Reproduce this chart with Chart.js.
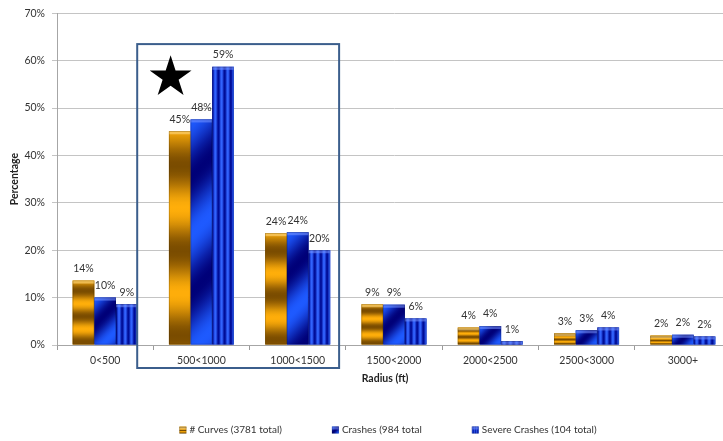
<!DOCTYPE html>
<html>
<head>
<meta charset="utf-8">
<script src="https://cdn.jsdelivr.net/npm/chart.js@4"></script>
<style>
html, body { margin: 0; padding: 0; background: #fff; overflow: hidden; }
</style>
</head>
<body>
<canvas id="myChart" width="731" height="441"></canvas>
<script>
// values (percent)
var radiusLabels = ["0<500", "500<1000", "1000<1500", "1500<2000", "2000<2500", "2500<3000", "3000+"];
var curvesPct  = [13.6, 45.1, 23.6, 8.6, 3.7, 2.5, 2.0];
var crashesPct = [10.0, 47.6, 23.8, 8.5, 4.0, 3.1, 2.15];
var severePct  = [8.6, 58.7, 20.0, 5.6, 0.8, 3.7, 1.8];
var seriesNames = ["# Curves (3781 total)", "Crashes (984 total", "Severe Crashes (104 total)"];
var yMax = 70;
var yStep = 10;

var FONT = "Lato, 'Liberation Sans', sans-serif";
var baseColors = ["#E89A00", "#0A2FE8", "#0A2FE8"];

function mix(a, b, t) {
  var r = Math.round(a[0] + (b[0] - a[0]) * t);
  var g = Math.round(a[1] + (b[1] - a[1]) * t);
  var bl = Math.round(a[2] + (b[2] - a[2]) * t);
  return "rgb(" + r + "," + g + "," + bl + ")";
}

function waveStops(grad, light, dark, cycles, phase) {
  var steps = 48;
  for (var k = 0; k <= steps; k++) {
    var t = k / steps;
    var v = 0.5 + 0.5 * Math.cos(2 * Math.PI * (t * cycles + phase));
    grad.addColorStop(t, mix(dark, light, v));
  }
}

function paintBar(ctx, kind, left, top, w, h) {
  if (h <= 0) return;
  var g;
  if (kind === 0) {
    g = ctx.createLinearGradient(0, top, 0, top + h);
    waveStops(g, [255, 174, 10], [122, 76, 0], 2.5, 0.1);
  } else if (kind === 1) {
    var d = (w + h) / 2;
    g = ctx.createLinearGradient(left, top, left + d, top + d);
    waveStops(g, [30, 90, 255], [0, 0, 120], 1 + h / 200, 0);
  } else {
    g = ctx.createLinearGradient(left, 0, left + w, 0);
    waveStops(g, [50, 100, 255], [0, 12, 150], 3.5, 0.5);
  }
  ctx.save();
  ctx.fillStyle = g;
  ctx.fillRect(left, top, w, h);
  // small lighter cap on top
  var cap = Math.min(3, h);
  ctx.fillStyle = kind === 0 ? "rgba(255,220,140,0.55)" : "rgba(120,150,255,0.55)";
  ctx.fillRect(left, top, w, cap);
  ctx.strokeStyle = "rgba(0,0,0,0.25)";
  ctx.lineWidth = 0.7;
  ctx.strokeRect(left + 0.35, top + 0.35, w - 0.7, h - 0.7);
  ctx.restore();
}

var barSkin = {
  id: "barSkin",
  afterDatasetsDraw: function (chart) {
    var ctx = chart.ctx;
    ctx.save();
    ctx.font = "10.5px " + FONT;
    ctx.textAlign = "center";
    ctx.textBaseline = "middle";
    chart.data.datasets.forEach(function (ds, i) {
      var meta = chart.getDatasetMeta(i);
      meta.data.forEach(function (bar, j) {
        var p = bar.getProps(["x", "y", "base", "width"], true);
        var top = Math.min(p.y, p.base);
        paintBar(ctx, i, p.x - p.width / 2, top, p.width, Math.abs(p.base - p.y));
        ctx.fillStyle = "#333";
        ctx.fillText(Math.round(ds.data[j]) + "%", p.x, top - 12);
      });
    });
    ctx.restore();
  },
  afterDraw: function (chart) {
    var ctx = chart.ctx;
    var xs = chart.scales.x, ys = chart.scales.y;
    var catW = (xs.right - xs.left) / radiusLabels.length;

    // highlight box round the 500-1500 groups
    var bl = xs.getPixelForValue(1) - catW * 0.667;
    var br = xs.getPixelForValue(2) + catW * 0.43;
    var bt = ys.getPixelForValue(63.5);
    var bb = ys.bottom + 23;
    ctx.save();
    ctx.strokeStyle = "#3B5E8C";
    ctx.lineWidth = 2;
    ctx.strokeRect(bl, bt, br - bl, bb - bt);

    // star
    var cx = xs.getPixelForValue(1) - catW * 0.32;
    var cy = ys.getPixelForValue(56.5);
    var R = 22, r = R * 0.382;
    ctx.beginPath();
    for (var k = 0; k < 10; k++) {
      var rad = k % 2 === 0 ? R : r;
      var a = -Math.PI / 2 + k * Math.PI / 5;
      var px = cx + rad * Math.cos(a), py = cy + rad * Math.sin(a);
      if (k === 0) ctx.moveTo(px, py); else ctx.lineTo(px, py);
    }
    ctx.closePath();
    ctx.fillStyle = "#000";
    ctx.fill();

    // legend
    ctx.font = "10px " + FONT;
    ctx.textBaseline = "middle";
    ctx.textAlign = "left";
    var gap = 50, box = 7, tgap = 3;
    var widths = seriesNames.map(function (s) { return box + tgap + ctx.measureText(s).width; });
    var total = widths.reduce(function (a, b) { return a + b; }, 0) + gap * (widths.length - 1);
    var lx = (xs.left + xs.right) / 2 - 6 - total / 2;
    var ly = ys.bottom + 85;
    seriesNames.forEach(function (s, i) {
      paintBar(ctx, i, lx, ly - box / 2, box, box);
      ctx.fillStyle = "#333";
      ctx.fillText(s, lx + box + tgap, ly);
      lx += widths[i] + gap;
    });
    ctx.restore();
  }
};

new Chart("myChart", {
  type: "bar",
  data: {
    labels: radiusLabels,
    datasets: [
      { label: seriesNames[0], data: curvesPct, backgroundColor: baseColors[0] },
      { label: seriesNames[1], data: crashesPct, backgroundColor: baseColors[1] },
      { label: seriesNames[2], data: severePct, backgroundColor: baseColors[2] }
    ]
  },
  options: {
    responsive: false,
    animation: false,
    devicePixelRatio: 1,
    layout: { padding: { top: 10, right: 0, bottom: 0, left: 0 } },
    datasets: { bar: { barPercentage: 1, categoryPercentage: 0.675 } },
    plugins: {
      legend: { display: false },
      tooltip: { enabled: false }
    },
    scales: {
      x: {
        grid: { display: true, drawOnChartArea: false, drawTicks: true, tickLength: 5, color: "#9a9a9a", offset: true },
        border: { color: "#a6a6a6", width: 1 },
        ticks: { color: "#333", padding: 4, font: { family: FONT, size: 10.5 }, maxRotation: 0, autoSkip: false },
        title: {
          display: true,
          text: "Radius (ft)\u00a0\u00a0\u00a0\u00a0\u00a0\u00a0\u00a0",
          color: "#222",
          font: { family: FONT, size: 10.5, weight: "bold" },
          padding: { top: 0, bottom: 56 }
        },
        afterFit: function (scale) { scale.height = 96; }
      },
      y: {
        min: 0,
        max: yMax,
        grid: { color: "#c4c4c4", lineWidth: 1, tickLength: 5, drawTicks: true },
        border: { color: "#a6a6a6", width: 1 },
        ticks: {
          stepSize: yStep,
          color: "#333",
          padding: 7,
          font: { family: FONT, size: 10.5 },
          callback: function (v) { return v + "%"; }
        },
        title: {
          display: true,
          text: "Percentage",
          color: "#222",
          font: { family: FONT, size: 10.5, weight: "bold" },
          padding: { top: 8, bottom: 0 }
        },
        afterFit: function (scale) { scale.width = 57; }
      }
    }
  },
  plugins: [barSkin]
});
</script>
</body>
</html>
